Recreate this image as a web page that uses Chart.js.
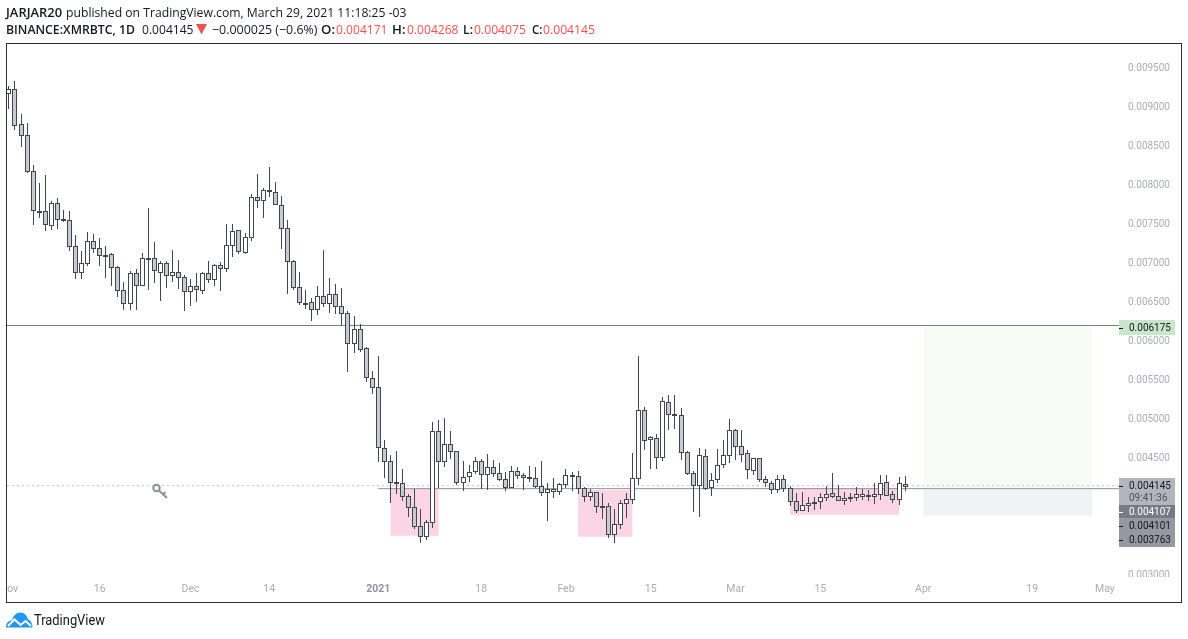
<!DOCTYPE html>
<html><head><meta charset="utf-8">
<script src="https://cdn.jsdelivr.net/npm/chart.js@4"></script>
<style>
html,body{margin:0;padding:0;background:#fff;width:1188px;height:639px;overflow:hidden}
canvas{position:absolute;left:0;top:0}
.t{position:absolute;white-space:nowrap;font-family:"Open Sans",sans-serif;font-size:13px;line-height:16px;color:#131722;transform-origin:0 50%}
.b{font-weight:600}
.r{color:#ef5350}
svg{position:absolute}
</style></head><body>
<canvas id="c" width="1188" height="639"></canvas>
<div class="t b" data-l="6" data-r="62" style="top:4px">JARJAR20</div>
<div class="t" data-l="65.5" data-r="406" style="top:4px">published on TradingView.com, March 29, 2021 11:18:25 -03</div>
<div class="t b" data-l="6" data-r="135" style="top:21px">BINANCE:XMRBTC, 1D</div>
<div class="t" data-l="141.5" data-r="193" style="top:21px">0.004145</div>
<svg style="left:196px;top:24px" width="12" height="11"><path d="M0 0H11L5.5 10.5Z" fill="#ef5350"/></svg>
<div class="t" data-l="211.5" data-r="317" style="top:21px">−0.000025 (−0.6%)</div>
<div class="t b" data-l="321" data-r="335" style="top:21px">O:</div>
<div class="t r" data-l="335.5" data-r="387" style="top:21px">0.004171</div>
<div class="t b" data-l="392" data-r="405.5" style="top:21px">H:</div>
<div class="t r" data-l="406.5" data-r="458" style="top:21px">0.004268</div>
<div class="t b" data-l="463" data-r="473" style="top:21px">L:</div>
<div class="t r" data-l="474" data-r="526" style="top:21px">0.004075</div>
<div class="t b" data-l="531.5" data-r="542" style="top:21px">C:</div>
<div class="t r" data-l="543" data-r="595" style="top:21px">0.004145</div>
<svg style="left:6px;top:612px" width="27" height="16"><path d="M0 15.5C0 11 2.5 8.5 6 8.5C7 3.5 10.5 .5 14.5 .5C18.5 .5 21 3.5 22 7.5C25 8.5 26.5 11.5 26.5 15.5Z" fill="#2196f3"/><polyline points="2,14 8.5,7.5 14.5,13 19.5,9 25,14" fill="none" stroke="#fff" stroke-width="2"/></svg>
<div class="t" data-l="34" data-r="105" style="top:612px;font-family:Roboto,sans-serif;font-size:14px">TradingView</div>
<svg style="left:151px;top:483px" width="18" height="17"><g fill="none" stroke="#8d9099" stroke-width="2"><circle cx="5.5" cy="5" r="3.2"/><path d="M8 7.5L16 15M12 11.5L14.5 9"/></g></svg>
<script>
const opens=[0.009175,0.009226,0.008777,0.008636,0.008175,0.007662,0.007662,0.007483,0.007765,0.007559,0.007547,0.007213,0.006880,0.006995,0.007277,0.007188,0.007098,0.007111,0.006944,0.006649,
0.006483,0.006867,0.006713,0.007059,0.007059,0.006880,0.006995,0.006842,0.006880,0.006816,0.006636,0.006700,0.006650,0.006868,0.006791,0.006970,0.006932,0.007227,0.007419,0.007137,
0.007329,0.007842,0.007804,0.007932,0.007906,0.007740,0.007445,0.007022,0.006688,0.006483,0.006496,0.006406,0.006573,0.006483,0.006599,0.006445,0.006355,0.005970,0.006150,0.005906,
0.005522,0.005406,0.004624,0.004457,0.004188,0.004175,0.004008,0.003867,0.003624,0.003495,0.003675,0.004842,0.004457,0.004675,0.004585,0.004188,0.004265,0.004329,0.004457,0.004290,
0.004380,0.004303,0.004226,0.004124,0.004329,0.004278,0.004252,0.004240,0.004137,0.004060,0.004073,0.004073,0.004163,0.004278,0.004265,0.004112,0.004009,0.004060,0.003881,0.003881,
0.003522,0.003650,0.003919,0.003970,0.004240,0.005111,0.004740,0.004753,0.004509,0.005214,0.005060,0.005047,0.004573,0.004304,0.004150,0.004522,0.004124,0.004227,0.004419,0.004535,
0.004854,0.004649,0.004559,0.004341,0.004495,0.004226,0.004175,0.004098,0.004226,0.004111,0.003944,0.003829,0.003893,0.003931,0.003944,0.003995,0.004047,0.004008,0.003957,0.003995,
0.003995,0.004008,0.004021,0.004008,0.004034,0.004188,0.004034,0.003970,0.004171];
const highs=[0.009269,0.009333,0.008910,0.008795,0.008256,0.008025,0.008128,0.007790,0.007829,0.007679,0.007666,0.007354,0.007149,0.007393,0.007371,0.007316,0.007213,0.007124,0.006957,0.006752,
0.006893,0.006918,0.007124,0.007701,0.007265,0.007021,0.007021,0.007162,0.007034,0.006842,0.006790,0.006867,0.006881,0.007022,0.006983,0.007009,0.007496,0.007496,0.007419,0.007381,
0.007881,0.008137,0.007958,0.008227,0.008034,0.007855,0.007547,0.007034,0.006881,0.006650,0.006547,0.006701,0.007163,0.006804,0.006727,0.006676,0.006381,0.006317,0.006214,0.005919,
0.005611,0.005803,0.004726,0.004534,0.004585,0.004354,0.004034,0.004107,0.003842,0.003701,0.004957,0.004983,0.005008,0.004842,0.004585,0.004457,0.004406,0.004508,0.004483,0.004547,
0.004470,0.004431,0.004316,0.004393,0.004384,0.004303,0.004393,0.004381,0.004458,0.004176,0.004240,0.004176,0.004355,0.004317,0.004329,0.004124,0.004099,0.004060,0.004047,0.003919,
0.003842,0.003958,0.004047,0.004560,0.005808,0.005150,0.004778,0.004804,0.005278,0.005304,0.005304,0.005137,0.004590,0.004329,0.004624,0.004612,0.004304,0.004612,0.004727,0.004995,
0.004867,0.004854,0.004598,0.004495,0.004495,0.004265,0.004200,0.004277,0.004277,0.004141,0.004047,0.004059,0.003995,0.003995,0.004047,0.004136,0.004303,0.004149,0.004059,0.004047,
0.004124,0.004098,0.004085,0.004175,0.004277,0.004277,0.004072,0.004252,0.004268];
const lows=[0.008978,0.008709,0.008491,0.008158,0.007491,0.007581,0.007414,0.007427,0.007440,0.007521,0.007158,0.006799,0.006799,0.006965,0.007124,0.006965,0.006812,0.006709,0.006568,0.006401,
0.006401,0.006401,0.006709,0.006658,0.006747,0.006517,0.006683,0.006760,0.006671,0.006389,0.006453,0.006504,0.006607,0.006748,0.006710,0.006646,0.006889,0.007081,0.007120,0.007120,
0.007287,0.007710,0.007581,0.007851,0.007740,0.007184,0.006607,0.006658,0.006466,0.006415,0.006257,0.006338,0.006440,0.006364,0.006351,0.006205,0.005607,0.005851,0.005864,0.005479,
0.005325,0.004453,0.004248,0.003927,0.004034,0.003953,0.003743,0.003594,0.003406,0.003453,0.003607,0.004111,0.004389,0.004483,0.004158,0.004072,0.004192,0.004290,0.004107,0.004094,
0.004252,0.004209,0.004081,0.004111,0.004226,0.004094,0.004196,0.004112,0.004013,0.003693,0.003988,0.004026,0.004112,0.004077,0.004039,0.003936,0.003949,0.003795,0.003718,0.003475,
0.003411,0.003590,0.003731,0.003911,0.004154,0.004603,0.004359,0.004359,0.004462,0.004859,0.004872,0.004475,0.004278,0.003808,0.003744,0.004090,0.004013,0.004176,0.004368,0.004431,
0.004474,0.004448,0.004230,0.004277,0.004196,0.004128,0.004038,0.004055,0.004068,0.003884,0.003794,0.003816,0.003807,0.003833,0.003842,0.003948,0.003987,0.003953,0.003897,0.003940,
0.003948,0.003961,0.003948,0.003910,0.003961,0.004008,0.003923,0.003897,0.004075];
const closes=[0.009226,0.008765,0.008636,0.008175,0.007675,0.007660,0.007495,0.007765,0.007559,0.007557,0.007213,0.006880,0.006995,0.007277,0.007188,0.007098,0.007085,0.006944,0.006649,0.006483,
0.006867,0.006713,0.007059,0.007047,0.006906,0.006995,0.006842,0.006880,0.006816,0.006636,0.006700,0.006662,0.006868,0.006791,0.006970,0.006932,0.007227,0.007406,0.007150,0.007329,
0.007842,0.007804,0.007932,0.007919,0.007752,0.007445,0.007022,0.006688,0.006496,0.006479,0.006406,0.006573,0.006483,0.006599,0.006445,0.006355,0.005970,0.006150,0.005893,0.005534,
0.005406,0.004637,0.004457,0.004188,0.004175,0.004008,0.003867,0.003624,0.003495,0.003675,0.004842,0.004457,0.004675,0.004585,0.004188,0.004260,0.004316,0.004457,0.004290,0.004380,
0.004303,0.004226,0.004124,0.004329,0.004278,0.004252,0.004239,0.004137,0.004060,0.004099,0.004099,0.004163,0.004278,0.004265,0.004112,0.004009,0.004060,0.003881,0.003876,0.003522,
0.003650,0.003919,0.003970,0.004240,0.005111,0.004727,0.004765,0.004509,0.005227,0.005060,0.005047,0.004573,0.004304,0.004150,0.004535,0.004112,0.004214,0.004406,0.004535,0.004854,
0.004649,0.004547,0.004354,0.004495,0.004226,0.004188,0.004098,0.004226,0.004111,0.003944,0.003829,0.003893,0.003918,0.003918,0.003995,0.004034,0.004008,0.003957,0.003983,0.003991,
0.004034,0.004034,0.004008,0.004034,0.004175,0.004021,0.003970,0.004175,0.004145];

const priceTicks=[0.003,0.0035,0.004,0.0045,0.005,0.0055,0.006,0.0065,0.007,0.0075,0.008,0.0085,0.009,0.0095];
const timeTickDays=[0,15,30,43,61,78,92,106,120,134,151,169,181];
const timeTickNames=['Nov','16','Dec','14','2021','18','Feb','15','Mar','15','Apr','19','May'];
const yearTickDay=61;

const pinkStart=[63,94,129];
const pinkEnd=[71,103,147];
const pinkTop=[0.0041115,0.00409,0.0041115];
const pinkBottom=[0.003504,0.003491,0.003773];

const targetPrice=0.006175, entryPrice=0.004101, stopPrice=0.003763, upperLevel=0.006199, lineLevel=0.004107, lastPrice=0.004145;
const toolStart=151, toolEnd=178.95, lineLevelStart=61, xMin=-0.3138, xMax=183.33;

const days=opens.map((_,i)=>i);
const GRAY='#c8cad2', WHITE='#ffffff', INK='#434651';
function flat(x0,x1,y,color,extra){return Object.assign({type:'line',data:[{x:x0,y},{x:x1,y}],borderColor:color,borderWidth:1,pointRadius:0,order:5},extra||{});}
function area(x0,x1,top,bottom,fillColor,edge){return {type:'line',data:[{x:x0,y:top},{x:x1,y:top}],borderColor:edge,borderWidth:0,pointRadius:0,fill:{value:bottom},backgroundColor:fillColor,order:9};}

const datasets=[
 {type:'bar',label:'body',order:1,grouped:false,barPercentage:1,categoryPercentage:1,maxBarThickness:5,borderWidth:1,borderSkipped:false,inflateAmount:0,minBarLength:1,
  borderColor:INK,backgroundColor:days.map(i=>closes[i]>=opens[i]?WHITE:GRAY),
  data:days.map(i=>({x:i,y:[opens[i],closes[i]]}))},
 {type:'bar',label:'wick',order:2,grouped:false,barPercentage:1,categoryPercentage:1,maxBarThickness:1,borderWidth:0,inflateAmount:0,backgroundColor:INK,
  data:days.map(i=>({x:i,y:[lows[i],highs[i]]}))},
 flat(xMin,xMax,upperLevel,'#787b86',{order:3}),
 flat(lineLevelStart,xMax,lineLevel,'#8f919a',{order:3}),
 flat(xMin,xMax,lastPrice,'#c4c6cd',{order:4,borderDash:[2,3]}),
 area(toolStart,toolEnd,targetPrice,entryPrice,'#f6fbf6','#f6fbf6'),
 area(toolStart,toolEnd,entryPrice,stopPrice,'#f1f2f4','#f1f2f4'),
 ...pinkStart.map((s,k)=>area(s,pinkEnd[k],pinkTop[k],pinkBottom[k],'#fbd5e3','#fbd5e3'))
];

const labelBoxes=[
 {y0:320,y1:335,fill:'#c8e6c9',rows:[{t:'0.006175',y:328,c:'#131722'}]},
 {y0:478,y1:505,fill:'#b2b5be',rows:[{t:'0.004145',y:485.7,c:'#131722'},{t:'09:41:36',y:498.3,c:'#50535e',noDash:true}]},
 {y0:505,y1:518,fill:'#787b86',rows:[{t:'0.004107',y:512,c:'#ffffff'}]},
 {y0:518,y1:547,fill:'#9598a1',rows:[{t:'0.004101',y:526,c:'#131722'},{t:'0.003763',y:540,c:'#131722'}]}
];

const pixelSnap={id:'pixelSnap',afterDatasetsUpdate(chart){
  chart.data.datasets.forEach((d,k)=>{ if(d.type!=='bar')return;
    chart.getDatasetMeta(k).data.forEach(el=>{
      el.x=Math.floor(el.x)+0.5;
      let a=Math.round(Math.min(el.y,el.base)), b=Math.round(Math.max(el.y,el.base));
      if(d.label==='body'&&b-a<1)b=a+1;
      if(d.label==='body')b+=1;
      el.y=a; el.base=b;
    });
  });
}};
const overlay={id:'overlay',afterDraw(chart){
  const ctx=chart.ctx; ctx.save();
  ctx.fillStyle='#fff';
  ctx.fillRect(1120,577,61,4);
  ctx.fillRect(0,578,7,24);
  ctx.font='10px Roboto'; ctx.textBaseline='middle'; ctx.textAlign='left';
  labelBoxes.forEach(b=>{
    ctx.fillStyle=b.fill; ctx.fillRect(1119,b.y0,56,b.y1-b.y0);
    b.rows.forEach(r=>{
      if(!r.noDash){ctx.fillStyle=r.c;ctx.fillRect(1119,Math.round(r.y),4,1);}
      ctx.fillStyle=r.c; ctx.fillText(r.t,1129,r.y+0.5);
    });
  });
  ctx.strokeStyle='#2a2e39'; ctx.lineWidth=1;
  ctx.strokeRect(6.5,43.5,1175,559);
  ctx.restore();
}};

new Chart(document.getElementById('c'),{
  type:'bar',
  data:{datasets},
  plugins:[pixelSnap,overlay],
  options:{
    responsive:false,animation:false,devicePixelRatio:1,
    layout:{padding:{left:7,right:0,top:44,bottom:0}},
    plugins:{legend:{display:false},tooltip:{enabled:false}},
    scales:{
      x:{type:'linear',min:xMin,max:xMax,offset:false,
         grid:{display:false,offset:false,drawTicks:false},border:{display:false},
         afterFit(s){s.height=62;s.paddingLeft=0;s.paddingRight=0;},
         afterBuildTicks(s){s.ticks=timeTickDays.map(v=>({value:v}));},
         ticks:{autoSkip:false,maxRotation:0,minRotation:0,padding:6,
                font:c=>({family:'Roboto',size:10.5,weight:c.tick&&c.tick.value===yearTickDay?'bold':'normal'}),
                color:c=>c.tick&&c.tick.value===yearTickDay?'#8f929b':'#a9acb5',
                callback:v=>{const k=timeTickDays.indexOf(v);return k<0?'':timeTickNames[k];}}},
      y:{type:'linear',position:'right',min:0.0029744,max:0.0098077,
         grid:{display:false,drawTicks:false},border:{display:false},
         afterFit(s){s.width=69;s.paddingTop=0;s.paddingBottom=0;},
         afterBuildTicks(s){s.ticks=priceTicks.map(v=>({value:v}));},
         ticks:{autoSkip:false,padding:9,labelOffset:0.5,font:{family:'Roboto',size:10},color:'#a9acb5',callback:v=>v.toFixed(6)}}
    }
  }
});
document.querySelectorAll('.t').forEach(el=>{
  const l=+el.dataset.l,r=+el.dataset.r; el.style.left=l+'px';
  const w=el.getBoundingClientRect().width; el.style.transform='scaleX('+((r-l)/w).toFixed(3)+')';
});
</script>
</body></html>
